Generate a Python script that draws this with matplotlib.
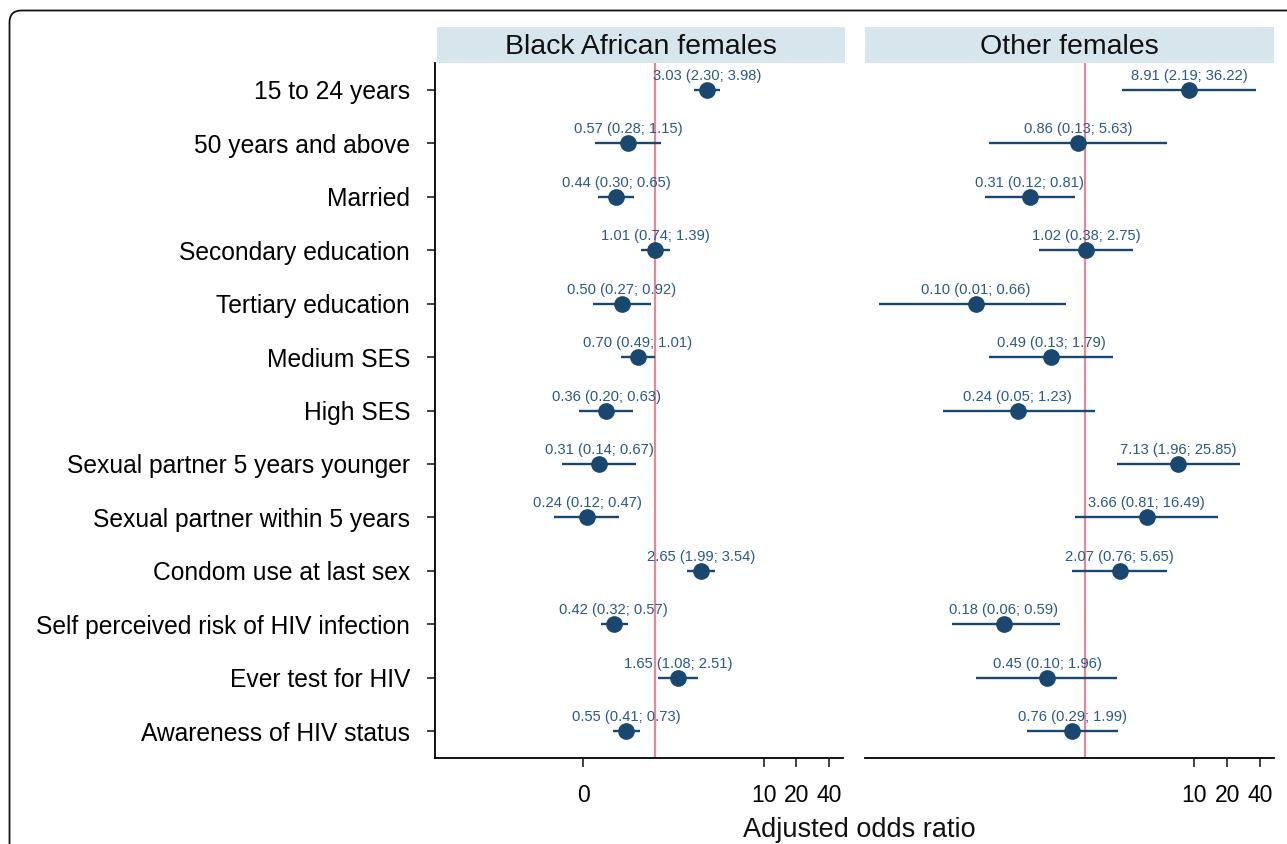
import matplotlib
matplotlib.use('Agg')
import matplotlib.pyplot as plt
from matplotlib.patches import FancyBboxPatch
from matplotlib.transforms import IdentityTransform

# ---------------- data ----------------
categories = [
    "15 to 24 years", "50 years and above", "Married", "Secondary education",
    "Tertiary education", "Medium SES", "High SES",
    "Sexual partner 5 years younger", "Sexual partner within 5 years",
    "Condom use at last sex", "Self perceived risk of HIV infection",
    "Ever test for HIV", "Awareness of HIV status",
]
panel_titles = ["Black African females", "Other females"]

ba_or = [3.03, 0.57, 0.44, 1.01, 0.50, 0.70, 0.36, 0.31, 0.24, 2.65, 0.42, 1.65, 0.55]
ba_lo = [2.30, 0.28, 0.30, 0.74, 0.27, 0.49, 0.20, 0.14, 0.12, 1.99, 0.32, 1.08, 0.41]
ba_hi = [3.98, 1.15, 0.65, 1.39, 0.92, 1.01, 0.63, 0.67, 0.47, 3.54, 0.57, 2.51, 0.73]

ot_or = [8.91, 0.86, 0.31, 1.02, 0.10, 0.49, 0.24, 7.13, 3.66, 2.07, 0.18, 0.45, 0.76]
ot_lo = [2.19, 0.13, 0.12, 0.38, 0.013, 0.13, 0.05, 1.96, 0.81, 0.76, 0.06, 0.10, 0.29]
ot_hi = [36.22, 5.63, 0.81, 2.75, 0.66, 1.79, 1.23, 25.85, 16.49, 5.65, 0.59, 1.96, 1.99]

xtick_vals_left = [0.22, 10, 20, 40]
xtick_labels_left = ["0", "10", "20", "40"]
xtick_vals_right = [10, 20, 40]
xtick_labels_right = ["10", "20", "40"]
x_label = "Adjusted odds ratio"

# ---------------- style ----------------
plt.rcParams['font.family'] = ['Liberation Sans', 'DejaVu Sans']
W, H, DPI = 1287, 844, 100
NAVY = '#1a476f'
TXT = '#2a5a85'
REF = '#e5879b'
HDR = '#d7e5ec'

fig = plt.figure(figsize=(W / DPI, H / DPI), dpi=DPI)
fig.patch.set_facecolor('white')


def px_axes(x0, y0, x1, y1, **kw):
    return fig.add_axes([x0 / W, 1 - y1 / H, (x1 - x0) / W, (y1 - y0) / H], **kw)


# outer rounded frame (partially outside the image)
frame = FancyBboxPatch((9.5, -40), 1340, 834 + 40 - 0.5,
                       boxstyle="round,pad=0,rounding_size=12",
                       transform=IdentityTransform(), fill=False,
                       edgecolor='#111111', linewidth=1.3)
fig.patches.append(frame)

ax_l = px_axes(435, 63, 843, 758)
ax_r = px_axes(865, 63, 1274, 758)

rows = list(range(1, len(categories) + 1))
XLIM = (0.0096, 53.5)

panels = [
    (ax_l, ba_or, ba_lo, ba_hi, xtick_vals_left, xtick_labels_left),
    (ax_r, ot_or, ot_lo, ot_hi, xtick_vals_right, xtick_labels_right),
]

for ax, orv, lo, hi, tv, tl in panels:
    ax.set_xscale('log')
    ax.set_xlim(*XLIM)
    ax.set_ylim(len(categories) + 0.5, 0.5)
    ax.axvline(1, color=REF, lw=1.6, zorder=1)
    ax.hlines(rows, lo, hi, color=NAVY, lw=1.7, zorder=2)
    ax.plot(orv, rows, 'o', color=NAVY, ms=11, zorder=3)
    for y, o, l, h in zip(rows, orv, lo, hi):
        ax.annotate(f"{o:.2f} ({l:.2f}; {h:.2f})", (o, y), xytext=(0, 5),
                    textcoords='offset points', ha='center', va='bottom',
                    fontsize=10.6, color=TXT, zorder=4)
    ax.set_xticks(tv)
    ax.set_xticklabels(tl)
    ax.xaxis.set_minor_locator(matplotlib.ticker.NullLocator())
    ax.tick_params(axis='x', length=6.5, width=1.2, pad=12, labelsize=16.5,
                   color='#222222')
    for s in ['top', 'right']:
        ax.spines[s].set_visible(False)
    ax.spines['bottom'].set_linewidth(1.3)
    ax.spines['left'].set_linewidth(1.3)
    ax.set_facecolor('white')

ax_l.set_yticks(rows)
ax_l.set_yticklabels(categories)
ax_l.tick_params(axis='y', length=6, width=1.2, pad=12, labelsize=17.7,
                 color='#222222')
ax_r.spines['left'].set_visible(False)
ax_r.tick_params(axis='y', left=False, labelleft=False)

# panel headers
for (x0, x1), title in zip([(437, 845), (865, 1274)], panel_titles):
    hax = px_axes(x0, 27, x1, 63)
    hax.set_facecolor(HDR)
    hax.set_xticks([])
    hax.set_yticks([])
    for s in hax.spines.values():
        s.set_visible(False)
    hax.text(0.5, 0.45, title, ha='center', va='center', fontsize=20.5,
             transform=hax.transAxes, color='#111111')

fig.text(859 / W, 1 - 830 / H, x_label, ha='center', va='center', fontsize=19.5,
         color='#111111')

fig.savefig('out.png', dpi=DPI, facecolor='white')
